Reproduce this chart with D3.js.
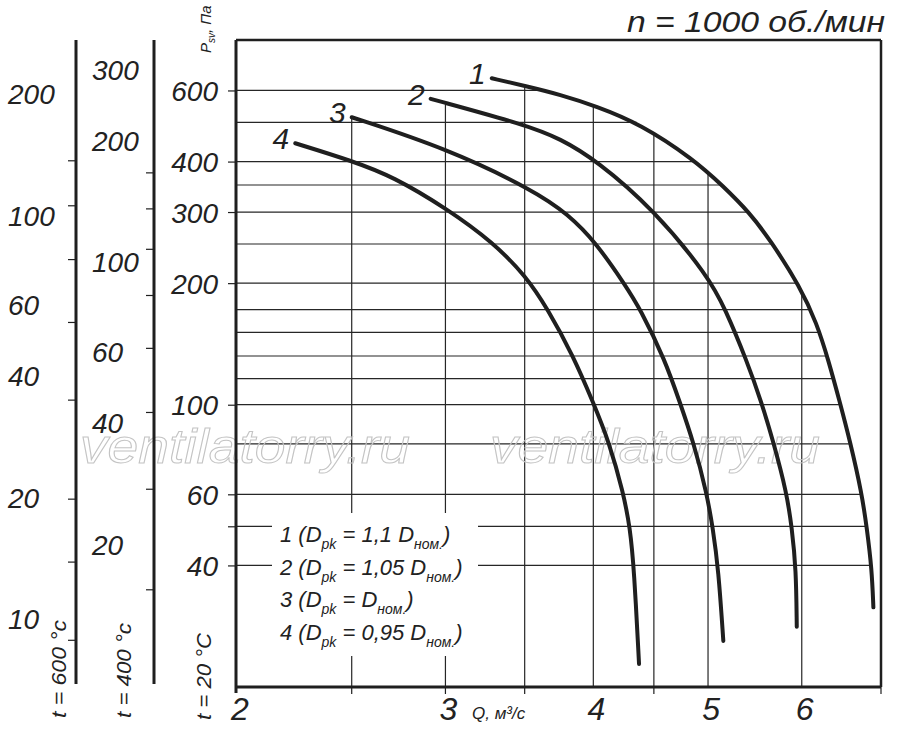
<!DOCTYPE html>
<html>
<head>
  <meta charset="utf-8">
  <title>Fan curves n = 1000</title>
  <script src="https://d3js.org/d3.v7.min.js"></script>
  <style>
    body { margin: 0; background: #fff; }
    text { font-family: "Liberation Sans", Arial, sans-serif; font-style: italic; fill: #222; }
  </style>
</head>
<body>
<script>
  // curves: Q, m3/s  /  P_sv, Pa (t = 20 C)
  var q1 = [3.283, 3.509, 3.75, 4.019, 4.381, 4.857, 5.148, 5.426, 5.641, 5.981, 6.178, 6.319, 6.464, 6.592, 6.743, 6.809, 6.876, 6.897];
  var p1 = [643, 615, 586, 549, 496, 406, 348, 298, 256, 196, 159, 129, 101, 81, 60.4, 49.6, 39.2, 31.5];
  var q2 = [2.915, 3.509, 3.75, 4.019, 4.502, 5.007, 5.168, 5.389, 5.551, 5.677, 5.828, 5.885, 5.934, 5.942];
  var p2 = [572, 493, 456, 404, 304, 207, 173, 129, 101, 81, 60.4, 49.6, 39.2, 28.2];
  var q3 = [2.5, 3.007, 3.559, 3.81, 4.021, 4.255, 4.381, 4.599, 4.735, 4.859, 4.988, 5.046, 5.102, 5.151];
  var p3 = [515, 431, 340, 296, 252, 198, 173, 129, 101, 81, 60.4, 49.6, 39.2, 26.0];
  var q4 = [2.24, 2.505, 2.71, 3.007, 3.293, 3.509, 3.658, 3.847, 4.0, 4.124, 4.241, 4.296, 4.33, 4.372];
  var p4 = [444, 401, 367, 306, 252, 208, 173, 132, 101, 81, 60.4, 49.6, 39.2, 22.8];
  var curveNames = ["1", "2", "3", "4"];

  // grid
  var qGrid = [2.5, 3, 3.5, 4, 4.5, 5, 6];
  var qTicks = [2.5, 3, 3.5, 4.5, 7];
  var qLabels = [2, 3, 4, 5, 6];
  var pGrid = [600, 500, 400, 350, 300, 250, 200, 172, 151, 132, 116, 100, 80, 60, 50, 40];
  var pTicks = [600, 400, 300, 200, 100, 60, 50, 40];
  var pLabels = [600, 400, 300, 200, 100, 60, 40];

  // side scales for hot gas
  var ratio600 = 0.34, ratio400 = 0.444;
  var ticks600 = [137, 106, 78, 54.5, 35, 19.9, 13.9, 8.9];
  var labels600 = [200, 100, 60, 40, 20, 10];
  var ticks400 = [167, 136, 108, 83, 61.4, 42.6, 27.5, 15.5];
  var labels400 = [300, 200, 100, 60, 40, 20];

  // legend
  var legendNum = ["1", "2", "3", "4"];
  var legendCoef = ["1,1 ", "1,05 ", "", "0,95 "];

  var width = 900, height = 735;
  var svg = d3.select("body").append("svg").attr("width", width).attr("height", height);

  var x = d3.scaleLog().domain([2, 7]).range([237, 881]);
  var y = d3.scaleLog().domain([20, 800]).range([687, 40]);
  var yA = d3.scaleLog().domain([20 * ratio600, 800 * ratio600]).range(y.range());
  var yB = d3.scaleLog().domain([20 * ratio400, 800 * ratio400]).range(y.range());

  var curves = [[q1, p1], [q2, p2], [q3, p3], [q4, p4]].map(function(c) {
    return c[0].map(function(q, i) { return [q, c[1][i]]; });
  });

  // log-log interpolation along a curve
  function loglog(a, b) {
    return d3.scaleLinear().domain(a.map(Math.log)).range(b.map(Math.log)).clamp(true);
  }
  var qOnCurve1 = loglog(p1, q1);

  var lineCol = "#1f1f1f";
  var grid = svg.append("g").attr("stroke", "#262626").attr("stroke-width", 1.2);

  // horizontal grid: from left axis to curve 1
  grid.selectAll(".h").data(pGrid).enter().append("line")
    .attr("x1", x(2)).attr("x2", function(d) { return x(Math.exp(qOnCurve1(Math.log(d)))); })
    .attr("y1", function(d) { return y(d); }).attr("y2", function(d) { return y(d); });

  // vertical grid: from bottom to the highest curve at that Q
  grid.selectAll(".v").data(qGrid).enter().append("line")
    .attr("x1", function(d) { return x(d); }).attr("x2", function(d) { return x(d); })
    .attr("y1", y(20))
    .attr("y2", function(d) {
      var top = 20;
      [[q1, p1], [q2, p2], [q3, p3], [q4, p4]].forEach(function(c) {
        if (d >= c[0][0] - 0.005 && d <= c[0][c[0].length - 1]) {
          top = Math.max(top, Math.exp(loglog(c[0], c[1])(Math.log(d))));
        }
      });
      return y(top);
    });

  // watermark
  svg.selectAll(".wm").data([245, 655]).enter().append("text")
    .attr("x", function(d) { return d; }).attr("y", 463)
    .attr("text-anchor", "middle")
    .attr("font-size", 48)
    .attr("textLength", 330).attr("lengthAdjust", "spacingAndGlyphs")
    .style("fill", "none").attr("stroke", "#c4c4c4").attr("stroke-width", 1)
    .text("ventilatorry.ru");

  // legend box
  svg.append("rect").attr("x", 272).attr("y", 513).attr("width", 206).attr("height", 143).attr("fill", "#fff");
  legendNum.forEach(function(n, i) {
    var t = svg.append("text").attr("x", 280).attr("y", 542 + i * 32.7).attr("font-size", 22);
    t.append("tspan").text(n + " (D");
    t.append("tspan").attr("font-size", 14).attr("dy", 7).text("pk");
    t.append("tspan").attr("dy", -7).text(" = " + legendCoef[i] + "D");
    t.append("tspan").attr("font-size", 14).attr("dy", 7).text("ном.");
    t.append("tspan").attr("dy", -7).text(")");
  });

  // curves
  var line = d3.line()
    .x(function(d) { return x(d[0]); })
    .y(function(d) { return y(d[1]); })
    .curve(d3.curveBasis);

  svg.selectAll(".curve").data(curves).enter().append("path")
    .attr("d", line)
    .attr("fill", "none").attr("stroke", lineCol).attr("stroke-width", 4)
    .attr("stroke-linecap", "round");

  svg.selectAll(".cl").data(curves).enter().append("text")
    .attr("x", function(d) { return x(d[0][0]) - 6; })
    .attr("y", function(d) { return y(d[0][1]) + 6; })
    .attr("text-anchor", "end").attr("font-size", 30)
    .text(function(d, i) { return curveNames[i]; });

  // frame
  var frame = svg.append("g").attr("stroke", lineCol).attr("fill", "none");
  frame.append("line").attr("x1", x(2) - 1).attr("x2", x(2) - 1).attr("y1", y(800)).attr("y2", y(20) + 6).attr("stroke-width", 3);
  frame.append("line").attr("x1", x(2) - 1).attr("x2", x(7)).attr("y1", y(20)).attr("y2", y(20)).attr("stroke-width", 3);
  frame.append("line").attr("x1", x(2) - 1).attr("x2", x(7)).attr("y1", y(800)).attr("y2", y(800)).attr("stroke-width", 2.5);
  frame.append("line").attr("x1", x(7)).attr("x2", x(7)).attr("y1", y(800)).attr("y2", y(20)).attr("stroke-width", 2.5);

  // x ticks below axis
  frame.selectAll(".xt").data(qTicks).enter().append("line")
    .attr("x1", function(d) { return x(d); }).attr("x2", function(d) { return x(d); })
    .attr("y1", y(20)).attr("y2", y(20) + 7).attr("stroke-width", 1.2);

  svg.selectAll(".xl").data(qLabels).enter().append("text")
    .attr("x", function(d) { return x(d) + 3; }).attr("y", 720)
    .attr("text-anchor", "middle").attr("font-size", 32)
    .text(function(d) { return d; });

  svg.append("text").attr("x", 472).attr("y", 719).attr("font-size", 17).text("Q, м³/с");

  // main pressure axis (t = 20 C)
  var axisP = d3.axisLeft(y).tickValues(pTicks).tickSize(8).tickSizeOuter(0)
    .tickFormat(function(d) { return pLabels.indexOf(d) >= 0 ? d : ""; });
  var gP = svg.append("g").attr("transform", "translate(" + (x(2) - 1) + ",0)").call(axisP);
  gP.select(".domain").remove();
  gP.selectAll(".tick line").attr("stroke", lineCol).attr("stroke-width", 1.2);
  gP.selectAll(".tick text").attr("x", -18).attr("dy", "0.36em").attr("font-size", 28)
    .attr("font-family", null).style("fill", "#222");

  // hot gas axes
  function sideAxis(scale, ticks, labels, ax, lx) {
    var g = svg.append("g").attr("transform", "translate(" + ax + ",0)")
      .call(d3.axisLeft(scale).tickValues(ticks).tickSize(8).tickSizeOuter(0).tickFormat(""));
    g.select(".domain").attr("stroke", lineCol).attr("stroke-width", 3).attr("d", "M0," + y(800) + "V" + (y(20) - 3));
    g.selectAll(".tick line").attr("stroke", lineCol).attr("stroke-width", 1.2);
    svg.selectAll(null).data(labels).enter().append("text")
      .attr("x", lx).attr("y", function(d) { return scale(d); }).attr("dy", "0.36em")
      .attr("font-size", 28)
      .text(function(d) { return d; });
  }
  sideAxis(yA, ticks600, labels600, 76, 8);
  sideAxis(yB, ticks400, labels400, 154, 92);

  // axis titles
  function vtext(tx, ty, size, len, str) {
    return svg.append("text").attr("transform", "translate(" + tx + "," + ty + ") rotate(-90)")
      .attr("font-size", size).attr("textLength", len).attr("lengthAdjust", "spacingAndGlyphs").text(str);
  }
  vtext(66, 718, 20, 98, "t = 600 °c");
  vtext(131, 718, 20, 95, "t = 400 °c");
  vtext(211, 720, 20, 87, "t = 20 °C");

  var ps = svg.append("text").attr("transform", "translate(211,53) rotate(-90)").attr("font-size", 15);
  ps.append("tspan").text("P");
  ps.append("tspan").attr("font-size", 10).attr("dy", 4).text("sv");
  ps.append("tspan").attr("dy", -4).text(", Па");

  svg.append("text").attr("x", 885).attr("y", 32).attr("text-anchor", "end")
    .attr("font-size", 30).attr("textLength", 258).attr("lengthAdjust", "spacingAndGlyphs")
    .text("n = 1000 об./мин");
</script>
</body>
</html>
